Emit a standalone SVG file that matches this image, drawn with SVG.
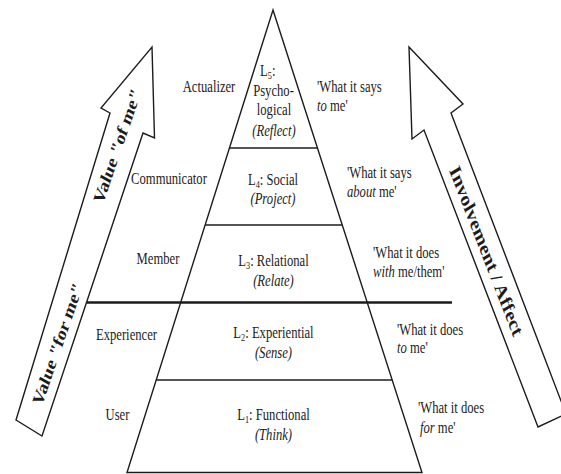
<svg xmlns="http://www.w3.org/2000/svg" width="561" height="474" viewBox="0 0 561 474">
  <style>
    .edge { fill: none; stroke: #1c1c1c; stroke-width: 1.4; stroke-linejoin: miter; }
    .arrow { fill: #ffffff; stroke: #1c1c1c; stroke-width: 1.4; stroke-linejoin: miter; }
    .div { stroke: #1c1c1c; stroke-width: 1.5; }
    .thick { stroke: #1c1c1c; stroke-width: 2.6; }
    text { font-family: "Liberation Serif", "Times New Roman", serif; fill: #1c1c1c; font-size: 16px; }
    .c { text-anchor: middle; }
    .it { font-style: italic; }
    .big { font-weight: bold; font-size: 20px; text-anchor: middle; }
    .sub { font-size: 10.5px; }
  </style>

  <rect width="561" height="474" fill="#ffffff"/>

  <!-- left arrow: value -->
  <g id="arrow-value">
    <polygon class="arrow" points="152,47 154.5,138 143,133 42,436 16,420 110,113 101,108"/>
    <g transform="scale(0.79 1)">
      <text class="big" transform="translate(72.5,344) rotate(-66.5)" x="0" y="7">Value "for me"</text>
      <text class="big" transform="translate(148,146) rotate(-66.5)" x="0" y="7">Value "of me"</text>
    </g>
  </g>

  <!-- right arrow: involvement -->
  <g id="arrow-involvement">
    <polygon class="arrow" points="409,47 463,104 451,113 566,414 538,427 424,130 412,139"/>
    <g transform="scale(0.79 1)">
      <text class="big" style="font-size:21.5px" transform="translate(615.5,251) rotate(64)" x="0" y="7">Involvement / Affect</text>
    </g>
  </g>

  <!-- pyramid outline and tier dividers -->
  <g id="pyramid">
    <polygon class="edge" points="273,10 422,472.5 127,472.5"/>
    <line class="div" x1="229.4" y1="148" x2="317.5" y2="148"/>
    <line class="div" x1="205.1" y1="225" x2="342.3" y2="225"/>
    <line class="thick" x1="87" y1="302.5" x2="452" y2="302.5"/>
    <line class="div" x1="156.1" y1="380" x2="392.3" y2="380"/>
  </g>

  <!-- tiers, text set condensed -->
  <g id="level5" transform="scale(0.79 1)">
    <text class="c" x="264.6" y="92">Actualizer</text>
    <text class="c" x="339" y="76">L<tspan class="sub" dy="3">5</tspan><tspan dy="-3">:</tspan></text>
    <text class="c" x="346.2" y="96">Psycho-</text>
    <text class="c" x="346.8" y="115">logical</text>
    <text class="c it" x="346.8" y="136">(Reflect)</text>
    <text x="401.3" y="92.5">'What it says</text>
    <text x="401.3" y="111.5"><tspan class="it">to</tspan> me'</text>
  </g>

  <g id="level4" transform="scale(0.79 1)">
    <text class="c" x="213.9" y="184">Communicator</text>
    <text class="c" x="345.6" y="185">L<tspan class="sub" dy="3">4</tspan><tspan dy="-3">: Social</tspan></text>
    <text class="c it" x="345.6" y="204.5">(Project)</text>
    <text x="439.2" y="178.5">'What it says</text>
    <text x="439.2" y="197"><tspan class="it">about</tspan> me'</text>
  </g>

  <g id="level3" transform="scale(0.79 1)">
    <text class="c" x="200" y="264">Member</text>
    <text class="c" x="346.2" y="266">L<tspan class="sub" dy="3">3</tspan><tspan dy="-3">: Relational</tspan></text>
    <text class="c it" x="346.2" y="286">(Relate)</text>
    <text x="472.2" y="258">'What it does</text>
    <text x="472.2" y="277"><tspan class="it">with</tspan> me/them'</text>
  </g>

  <g id="level2" transform="scale(0.79 1)">
    <text class="c" x="160.1" y="340">Experiencer</text>
    <text class="c" x="346.2" y="338">L<tspan class="sub" dy="3">2</tspan><tspan dy="-3">: Experiential</tspan></text>
    <text class="c it" x="346.2" y="358">(Sense)</text>
    <text x="502.5" y="335">'What it does</text>
    <text x="502.5" y="353.5"><tspan class="it">to</tspan> me'</text>
  </g>

  <g id="level1" transform="scale(0.79 1)">
    <text class="c" x="148.7" y="420">User</text>
    <text class="c" x="346.2" y="420">L<tspan class="sub" dy="3">1</tspan><tspan dy="-3">: Functional</tspan></text>
    <text class="c it" x="346.2" y="440">(Think)</text>
    <text x="529.1" y="413.5">'What it does</text>
    <text x="531.6" y="433.5"><tspan class="it">for</tspan> me'</text>
  </g>
</svg>
